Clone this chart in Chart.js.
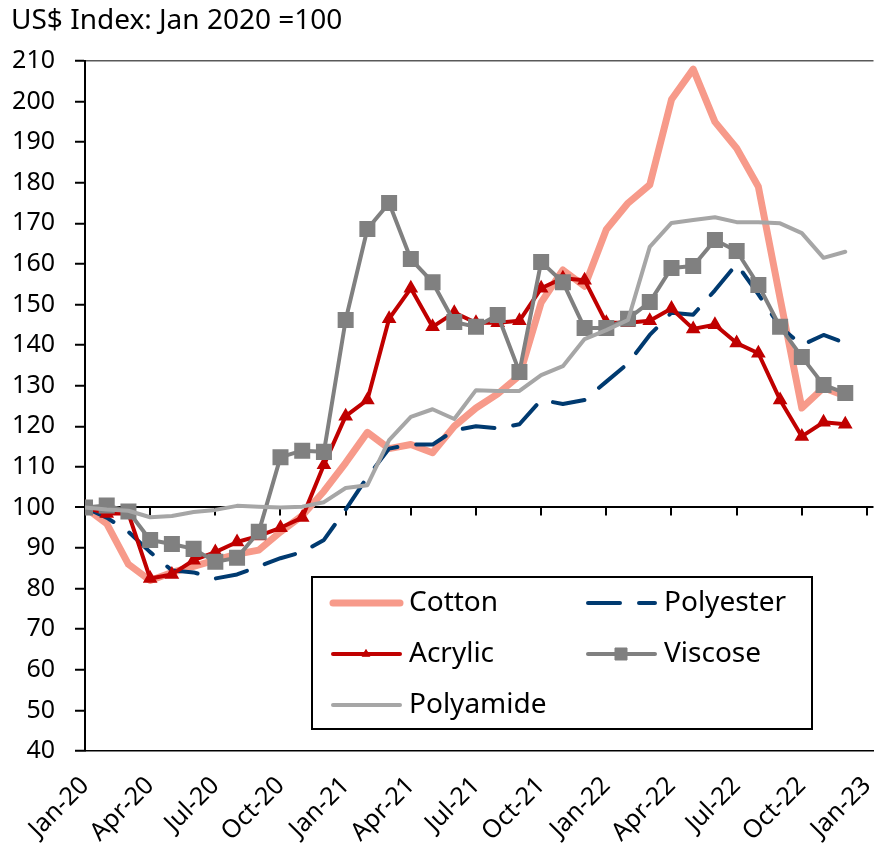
<!DOCTYPE html>
<html>
<head>
<meta charset="utf-8">
<script src="https://cdn.jsdelivr.net/npm/chart.js@4.4.1/dist/chart.umd.min.js"></script>
<style>
  body { margin: 0; background: #fff; }
  canvas { display: block; }
</style>
</head>
<body>
<canvas id="myChart" width="886" height="859"></canvas>
<script>
// monthly values, Jan-20 .. Dec-22
var tickLabels = ['Jan-20', 'Apr-20', 'Jul-20', 'Oct-20', 'Jan-21', 'Apr-21', 'Jul-21',
                  'Oct-21', 'Jan-22', 'Apr-22', 'Jul-22', 'Oct-22', 'Jan-23'];
var seriesNames = ['Cotton', 'Polyester', 'Acrylic', 'Viscose', 'Polyamide'];

var cotton = [100, 96, 86, 82, 84, 85.5, 87, 88.5, 89.5, 94, 98, 104,
              111, 118.5, 114.5, 115.5, 113.5, 120, 124.5, 128, 132.5, 150.5, 158.5, 154.5,
              168.5, 175, 179.5, 200.5, 208, 195, 188.5, 179, 151.5, 124.5, 129.5, 127.5];
var polyester = [100, 97.5, 94, 89, 84.5, 84, 82.5, 83.5, 85.5, 87.5, 89, 92,
                 99.5, 107.5, 114.5, 115.5, 115.5, 119, 120, 119.5, 120.5, 126.5, 125.5, 126.5,
                 131, 135.5, 142.5, 148, 147.5, 153.5, 160, 152.5, 144.5, 140, 142.5, 140.5];
var acrylic = [100, 98.5, 98.5, 82.5, 83.5, 87, 89, 91.5, 93, 95, 97.5, 110.5,
               122.5, 126.5, 146.5, 154, 144.5, 148, 145.5, 145.5, 146, 154, 156.5, 156,
               145.5, 145.5, 146, 149, 144, 145, 140.5, 138, 126.5, 117.5, 121, 120.5];
var viscose = [100, 100.5, 99, 92, 91, 89.8, 86.6, 87.6, 94, 112.4, 114, 113.7,
               146.2, 168.6, 175, 161.2, 155.5, 145.7, 144.5, 147.4, 133.4, 160.5, 155.5, 144.2,
               144.2, 146.5, 150.6, 159, 159.5, 165.9, 163.2, 154.8, 144.5, 137.1, 130.2, 128.2];
var polyamide = [100, 99.5, 99.2, 97.6, 97.9, 98.9, 99.4, 100.4, 100.2, 100, 100.2, 101.3,
                 104.8, 105.5, 116.6, 122.3, 124.2, 121.8, 128.9, 128.7, 128.7, 132.6, 134.8, 141.5,
                 143.7, 146.2, 164.2, 170.1, 170.8, 171.5, 170.3, 170.3, 170, 167.6, 161.5, 163];

var FONT = "'Noto Sans', sans-serif";

function pts(arr) {
    return arr.map(function (v, i) { return { x: i, y: v }; });
}

// axis line at 100 with tick marks every quarter, title, and legend box
var extras = {
    id: 'extras',
    beforeDatasetsDraw: function (chart) {
        var ctx = chart.ctx, x = chart.scales.x, y = chart.scales.y;
        var y100 = y.getPixelForValue(100);
        ctx.save();
        ctx.strokeStyle = '#000';
        ctx.lineWidth = 2;
        for (var i = 3; i <= 36; i += 3) {
            var px = Math.round(x.getPixelForValue(i));
            ctx.beginPath();
            ctx.moveTo(px, y100);
            ctx.lineTo(px, y100 + 8);
            ctx.stroke();
        }
        ctx.restore();
    },
    afterDraw: function (chart) {
        var ctx = chart.ctx;
        ctx.save();
        ctx.fillStyle = '#000';
        ctx.font = '28px ' + FONT;
        ctx.textBaseline = 'middle';
        ctx.fillText('US$ Index: Jan 2020 =100', 11, 21);

        // legend
        ctx.strokeStyle = '#000';
        ctx.lineWidth = 2;
        ctx.strokeRect(312, 577, 500, 152);
        var spots = [[333, 603], [588, 603], [333, 654], [588, 654], [333, 705]];
        chart.data.datasets.forEach(function (ds, i) {
            var sx = spots[i][0], sy = spots[i][1];
            ctx.save();
            ctx.strokeStyle = ds.borderColor;
            ctx.lineWidth = ds.borderWidth;
            ctx.lineCap = 'round';
            ctx.setLineDash(ds.borderDash || []);
            ctx.beginPath();
            ctx.moveTo(sx, sy);
            ctx.lineTo(sx + 67, sy);
            ctx.stroke();
            ctx.restore();
            if (ds.pointRadius > 0) {
                ctx.fillStyle = ds.pointBackgroundColor;
                ctx.strokeStyle = ds.pointBorderColor;
                ctx.lineWidth = 1;
                Chart.helpers.drawPoint(ctx, {
                    pointStyle: ds.pointStyle, radius: ds.pointRadius,
                    borderWidth: 1, rotation: 0
                }, sx + 33, sy);
            }
            ctx.fillStyle = '#000';
            ctx.font = '28px ' + FONT;
            ctx.textBaseline = 'middle';
            ctx.fillText(ds.label, sx + 76, sy);
        });
        ctx.restore();
    }
};

var ctx = document.getElementById('myChart').getContext('2d');
var myChart = new Chart(ctx, {
    type: 'line',
    data: {
        datasets: [{
            label: seriesNames[0],
            data: pts(cotton),
            borderColor: '#F79A8A',
            borderWidth: 7,
            pointRadius: 0,
            order: 5
        }, {
            label: seriesNames[1],
            data: pts(polyester),
            borderColor: '#003A70',
            borderWidth: 4,
            borderDash: [32, 19],
            pointRadius: 0,
            order: 4
        }, {
            label: seriesNames[2],
            data: pts(acrylic),
            borderColor: '#C00000',
            borderWidth: 4,
            pointStyle: 'triangle',
            pointRadius: 4.5,
            pointBackgroundColor: '#C00000',
            pointBorderColor: '#C00000',
            order: 3
        }, {
            label: seriesNames[3],
            data: pts(viscose),
            borderColor: '#808080',
            borderWidth: 4,
            pointStyle: 'rect',
            pointRadius: 8.5,
            pointBackgroundColor: '#808080',
            pointBorderColor: '#808080',
            order: 2
        }, {
            label: seriesNames[4],
            data: pts(polyamide),
            borderColor: '#A6A6A6',
            borderWidth: 4,
            pointRadius: 0,
            order: 1
        }]
    },
    options: {
        responsive: false,
        animation: false,
        devicePixelRatio: 1,
        layout: { padding: { top: 61, right: 0, left: 0, bottom: 0 } },
        elements: {
            line: { tension: 0, borderCapStyle: 'round', borderJoinStyle: 'round', fill: false }
        },
        plugins: {
            legend: { display: false },
            tooltip: { enabled: false }
        },
        scales: {
            x: {
                type: 'linear',
                min: 0,
                max: 36.3,
                grid: { display: false },
                border: { display: true, color: '#000', width: 1.5 },
                afterFit: function (s) {
                    s.height = 108;
                    s.paddingLeft = 0;
                    s.paddingRight = 0;
                },
                ticks: {
                    stepSize: 3,
                    includeBounds: false,
                    autoSkip: false,
                    maxRotation: 45,
                    minRotation: 45,
                    padding: 12,
                    color: '#000',
                    font: { family: FONT, size: 25 },
                    callback: function (v) { return tickLabels[v / 3]; }
                }
            },
            y: {
                min: 40,
                max: 210,
                afterFit: function (s) { s.width = 85; },
                border: { display: true, color: '#000', width: 2 },
                grid: {
                    drawTicks: true,
                    tickLength: 10,
                    tickColor: '#000',
                    tickWidth: 2,
                    color: function (c) {
                        if (c.tick.value === 100) return '#000';
                        if (c.tick.value === 210) return '#595959';
                        return 'rgba(0,0,0,0)';
                    },
                    lineWidth: function (c) { return c.tick.value === 100 ? 2 : 1.5; }
                },
                ticks: {
                    stepSize: 10,
                    padding: 20,
                    color: '#000',
                    font: { family: FONT, size: 25 }
                }
            }
        }
    },
    plugins: [extras]
});
</script>
</body>
</html>
